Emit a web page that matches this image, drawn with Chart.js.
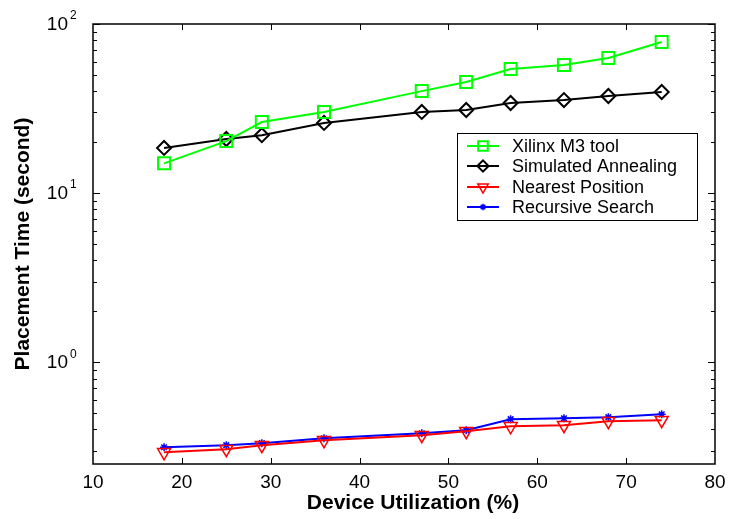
<!DOCTYPE html>
<html><head><meta charset="utf-8">
<script src="https://cdn.jsdelivr.net/npm/chart.js@4/dist/chart.umd.min.js"></script>
<style>html,body{margin:0;padding:0;background:#fff;} #wrap{width:729px;height:519px;position:relative;}</style>
</head><body><div id="wrap"><canvas id="c"></canvas></div>
<script>
const utilization = [18, 25, 29, 36, 47, 52, 57, 63, 68, 74];
const xilinxM3 = [15.0, 20.3, 26.3, 30.2, 40.1, 45.4, 54.2, 57.2, 62.9, 78.3];
const simAnnealing = [18.5, 20.9, 22.0, 26.0, 30.2, 31.0, 34.1, 35.5, 37.5, 39.6];
const nearestPos = [0.293, 0.306, 0.323, 0.345, 0.370, 0.391, 0.418, 0.424, 0.448, 0.454];
const recursiveSearch = [0.314, 0.323, 0.332, 0.355, 0.380, 0.396, 0.460, 0.466, 0.473, 0.492];
const seriesNames = ['Xilinx M3 tool', 'Simulated Annealing', 'Nearest Position', 'Recursive Search'];
const xTicks = [10, 20, 30, 40, 50, 60, 70, 80];
const yExponents = [0, 1, 2];
const xTitle = 'Device Utilization (%)';
const yTitle = 'Placement Time (second)';

const FONT = "'Liberation Sans', Arial, sans-serif";
const toXY = (ys) => utilization.map((x, i) => ({x: x, y: ys[i]}));

const styles = [
  {color: '#00ff00', pointStyle: 'rect', radius: 8.5, rotation: 0, pw: 2},
  {color: '#000000', pointStyle: 'rectRot', radius: 7, rotation: 0, pw: 2},
  {color: '#ff0000', pointStyle: 'triangle', radius: 7.5, rotation: 180, pw: 1.5},
  {color: '#0000ff', pointStyle: 'star', radius: 4, rotation: 0, pw: 1.5}
];
const seriesData = [xilinxM3, simAnnealing, nearestPos, recursiveSearch];

const datasets = seriesData.map((ys, i) => ({
  label: seriesNames[i],
  data: toXY(ys),
  borderColor: styles[i].color,
  backgroundColor: 'rgba(0,0,0,0)',
  borderWidth: 2,
  pointStyle: styles[i].pointStyle,
  pointRadius: styles[i].radius,
  pointHoverRadius: styles[i].radius,
  pointRotation: styles[i].rotation,
  pointBorderColor: styles[i].color,
  pointBackgroundColor: 'rgba(0,0,0,0)',
  pointBorderWidth: styles[i].pw,
  tension: 0
}));

const framePlugin = {
  id: 'frame',
  afterDraw(chart) {
    const ctx = chart.ctx;
    const a = chart.chartArea;
    const xs = chart.scales.x, ys = chart.scales.y;
    ctx.save();
    ctx.strokeStyle = '#000';
    ctx.lineWidth = 1.5;
    ctx.strokeRect(a.left, a.top, a.right - a.left, a.bottom - a.top);
    ctx.lineWidth = 1;
    ctx.beginPath();
    xTicks.forEach(v => {
      if (v === xTicks[0] || v === xTicks[xTicks.length - 1]) return;
      const px = Math.round(xs.getPixelForValue(v)) + 0.5;
      ctx.moveTo(px, a.bottom); ctx.lineTo(px, a.bottom - 6);
      ctx.moveTo(px, a.top); ctx.lineTo(px, a.top + 6);
    });
    for (let e = -1; e <= 2; e++) {
      for (let k = 1; k <= 9; k++) {
        const v = k * Math.pow(10, e);
        if (v < ys.min - 1e-9 || v > ys.max + 1e-9) continue;
        const py = Math.round(ys.getPixelForValue(v)) + 0.5;
        const len = (k === 1) ? 7 : 4;
        ctx.moveTo(a.left, py); ctx.lineTo(a.left + len, py);
        ctx.moveTo(a.right, py); ctx.lineTo(a.right - len, py);
      }
    }
    ctx.stroke();
    ctx.fillStyle = '#000';
    ctx.textBaseline = 'middle';
    yExponents.forEach(e => {
      const py = ys.getPixelForValue(Math.pow(10, e));
      ctx.font = '19px ' + FONT;
      ctx.textAlign = 'right';
      ctx.fillText('10', 68, py + 1);
      ctx.font = '12px ' + FONT;
      ctx.textAlign = 'left';
      ctx.fillText(String(e), 70, py - 8);
    });
    // x axis title
    ctx.font = 'bold 21px ' + FONT;
    ctx.textAlign = 'center';
    ctx.textBaseline = 'middle';
    ctx.fillText(xTitle, 413, 503);
    // legend
    const lx = 457, ly = 133, lw = 240, lh = 87;
    ctx.fillStyle = '#fff';
    ctx.fillRect(lx, ly, lw, lh);
    ctx.lineWidth = 1;
    ctx.strokeStyle = '#000';
    ctx.strokeRect(lx + 0.5, ly + 0.5, lw, lh);
    const rows = [146, 166, 187, 207];
    chart.data.datasets.forEach((ds, i) => {
      const y = rows[i];
      ctx.strokeStyle = ds.borderColor;
      ctx.lineWidth = 2;
      ctx.beginPath(); ctx.moveTo(467, y); ctx.lineTo(499, y); ctx.stroke();
      ctx.lineWidth = ds.pointBorderWidth;
      ctx.fillStyle = 'rgba(255,255,255,0)';
      Chart.helpers.drawPoint(ctx, {pointStyle: ds.pointStyle, radius: ds.pointRadius * 0.8, rotation: ds.pointRotation, borderWidth: ds.pointBorderWidth}, 483, y);
      ctx.fillStyle = '#000';
      ctx.font = '18px ' + FONT;
      ctx.textAlign = 'left';
      ctx.textBaseline = 'middle';
      ctx.fillText(ds.label, 512, y + 1);
    });
    ctx.restore();
  }
};

new Chart(document.getElementById('c'), {
  type: 'line',
  data: {datasets: datasets},
  plugins: [framePlugin],
  options: {
    responsive: true,
    maintainAspectRatio: false,
    animation: false,
    layout: {padding: {left: 0, right: 14, top: 24, bottom: 0}},
    plugins: {legend: {display: false}, tooltip: {enabled: false}},
    scales: {
      x: {
        type: 'linear', min: 10, max: 80,
        afterBuildTicks: (s) => { s.ticks = xTicks.map(v => ({value: v})); },
        afterFit: (s) => { s.height = 55; s.paddingLeft = 0; s.paddingRight = 0; },
        grid: {display: false, drawTicks: false},
        border: {display: false},
        ticks: {color: '#000', font: {size: 19, family: FONT}, padding: 7, maxRotation: 0},
        title: {display: false, text: xTitle}
      },
      y: {
        type: 'logarithmic', min: 0.25, max: 100,
        afterFit: (s) => { s.width = 93; },
        grid: {display: false, drawTicks: false},
        border: {display: false},
        ticks: {display: false},
        title: {display: true, text: yTitle, color: '#000', font: {size: 21, weight: 'bold', family: FONT}, padding: {top: 11, bottom: 0}}
      }
    }
  }
});
</script></body></html>
